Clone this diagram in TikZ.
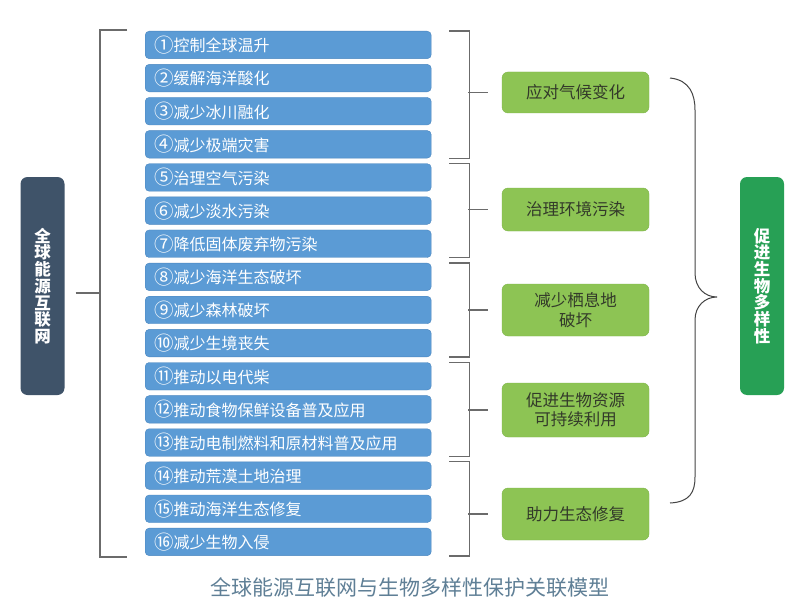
\documentclass[tikz,border=0pt]{standalone}
\usepackage{fontspec}
\setmainfont{Noto Sans CJK SC}
\usetikzlibrary{calc}
\definecolor{blueF}{HTML}{5B9BD5}
\definecolor{blueD}{HTML}{4A86BF}
\definecolor{greenF}{HTML}{8DC454}
\definecolor{greenD}{HTML}{7FB54A}
\definecolor{darkF}{HTML}{3F5369}
\definecolor{rgreen}{HTML}{27A055}
\definecolor{lineC}{HTML}{6B6B6B}
\definecolor{braceC}{HTML}{444444}
\definecolor{capC}{HTML}{5F7F96}
\definecolor{gtext}{HTML}{333A2A}
\newcommand{\cnumtext}[1]{{\fontsize{19.5}{18}\selectfont\raisebox{-0.6pt}{#1}}}
\begin{document}
\begin{tikzpicture}[x=1pt,y=-1pt,
  item/.style={draw=blueD, fill=blueF, rounded corners=4pt, minimum height=27.5pt,
    inner xsep=9pt, text width=268pt, align=left, anchor=north west, text=white,
    font=\fontsize{16}{18}\selectfont},
  cat/.style={draw=greenD, fill=greenF, rounded corners=6pt, minimum width=147pt,
    text=gtext, align=center, font=\fontsize{16.5}{19.5}\selectfont},
  sidebox/.style={rounded corners=7pt, minimum width=44pt, minimum height=218pt,
    text=white, align=center, font=\bfseries\fontsize{16.5}{16.7}\selectfont},
  conn/.style={draw=lineC, line width=1.3pt},
  bracecurve/.style={draw=braceC, line width=1pt}
]
\useasboundingbox (0,0) rectangle (800,615);
\fill[white] (0,0) rectangle (800,615);

% left and right boxes
\node[sidebox, fill=darkF] (L) at (42.5,286) {全\\球\\能\\源\\互\\联\\网};
\node[sidebox, fill=rgreen] (R) at (762,286) {促\\进\\生\\物\\多\\样\\性};

% items
\foreach \i/\n/\t in {1/①/控制全球温升,2/②/缓解海洋酸化,3/③/减少冰川融化,4/④/减少极端灾害,
  5/⑤/治理空气污染,6/⑥/减少淡水污染,7/⑦/降低固体废弃物污染,8/⑧/减少海洋生态破坏,
  9/⑨/减少森林破坏,10/⑩/减少生境丧失,11/⑪/推动以电代柴,12/⑫/推动食物保鲜设备普及应用,
  13/⑬/推动电制燃料和原材料普及应用,14/⑭/推动荒漠土地治理,15/⑮/推动海洋生态修复,16/⑯/减少生物入侵}
  \node[item] (b\i) at (145,{31+(\i-1)*33.13}) {\cnumtext{\n}\t};

% categories
\node[cat, minimum height=41pt] (g1) at (575.5,92.5) {应对气候变化};
\node[cat, minimum height=43pt] (g2) at (575.5,209.5) {治理环境污染};
\node[cat, minimum height=52pt] (g3) at (575.5,310) {减少栖息地\\破坏};
\node[cat, minimum height=54pt] (g4) at (575.5,410) {促进生物资源\\可持续利用};
\node[cat, minimum height=52pt] (g5) at (575.5,514) {助力生态修复};

% left bracket
\draw[conn] ($(b1.north west)+(-18,-1)$) -- ++(-27,0) |- ($(b16.south west)+(-18,1)$);
\draw[conn] ($(L.east)+(11,7)$) -- ++(25,0);

% group brackets
\foreach \a/\b/\g in {1/4/1,5/7/2,8/10/3,11/13/4,14/16/5}{
  \draw[conn] ($(b\a.north east)+(18,0)$) -- ++(20,0) |- ($(b\b.south east)+(18,0)$);
  \draw[conn] ($(g\g.west)+(-14,0)$) -- ($(g\g.west)+(-34,0)$);
}

% brace
\coordinate (bt) at (670,78);
\coordinate (bb) at (670,503);
\coordinate (tip) at (717,297);
\draw[bracecurve] (bt) .. controls (690,80) and (695,95) .. (695,110) -- (695,273)
  .. controls (695,288) and (705,297) .. (tip)
  .. controls (705,297) and (695,306) .. (695,320) -- (695,477)
  .. controls (695,492) and (690,502) .. (bb);

% caption
\node[font=\fontsize{21}{24}\selectfont, text=capC] (cap) at (410,587) {全球能源互联网与生物多样性保护关联模型};
\end{tikzpicture}
\end{document}
